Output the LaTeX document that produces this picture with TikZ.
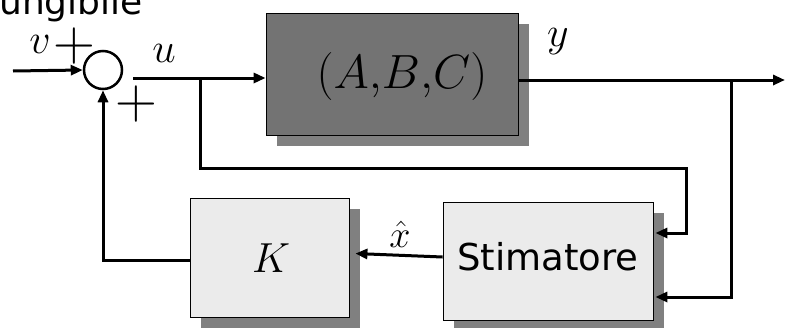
\RequirePackage{fix-cm}
\documentclass[tikz,border=0pt]{standalone}
\usepackage{fontspec}
\setsansfont{DejaVu Sans}
\usetikzlibrary{arrows.meta,positioning,calc,shadows}
\definecolor{PlantGray}{HTML}{737373}
\definecolor{BlockPale}{HTML}{EBEBEB}
\definecolor{ShadowGray}{HTML}{808080}

\tikzset{
  blk/.style={draw=black,line width=0.8pt,inner sep=0pt,
    drop shadow={shadow xshift=11pt,shadow yshift=-11pt,fill=ShadowGray,opacity=1}},
  sig/.style={line width=3pt},
  tip/.style={-{Triangle[length=12pt,width=10pt]}},
  mlab/.style={anchor=base,inner sep=0pt,font=\fontsize{42}{50}\selectfont},
  slab/.style={anchor=base,inner sep=0pt,font=\sffamily\fontsize{37}{44}\selectfont},
  plus/.style={inner sep=0pt,font=\fontsize{58}{64}\selectfont},
}

\begin{document}
\begin{tikzpicture}[x=1pt,y=-1pt]
  \useasboundingbox (0,0) rectangle (793,327);
  \clip (0,0) rectangle (793,327);

  % blocks
  \node[blk,fill=PlantGray,minimum width=252pt,minimum height=122pt] (plant) at (392,74) {};
  \node[blk,fill=BlockPale,minimum width=159pt,minimum height=119pt] (gain) at (269.5,257.5) {};
  \node[blk,fill=BlockPale,minimum width=210pt,minimum height=118pt] (est) at (548,261) {};
  \node[draw,circle,line width=2.5pt,minimum size=38pt,inner sep=0pt] (sum) at (103,70) {};

  % texts
  \node[anchor=base west,inner sep=0pt,font=\sffamily\fontsize{36}{44}\selectfont] (title) at (-1,14) {ungibile};
  \node[mlab,font=\fontsize{48}{56}\selectfont] (abc) at (402,88) {$(A{,}B{,}C)$};
  \node[mlab] (klab) at (271,272) {$K$};
  \node[slab] (estlab) at (548,270) {Stimatore};
  \node[mlab] (vlab) at (40,53) {$v$};
  \node[mlab] (ulab) at (164,62) {$u$};
  \node[mlab] (ylab) at (558,46) {$y$};
  \node[mlab,font=\fontsize{38}{46}\selectfont] (xlab) at (400,247) {$\hat{x}$};
  \node[plus] (plusv) at (74,46) {$+$};
  \node[plus] (plusk) at (136,104) {$+$};

  % signals
  \coordinate (vin) at (13,71);
  \coordinate (ustart) at (133,78);
  \coordinate (ubr) at (200,78);
  \coordinate (ucorner) at (686,168);
  \coordinate (yout) at (785,80);
  \coordinate (ybr) at (731,80);

  \draw[sig,tip] (vin) -- (sum.west);
  \draw[sig,tip] (ustart) -- (ustart -| plant.west);
  \draw[sig,tip] (ubr) |- (ucorner) |- ($(est.east)+(2,-28)$);
  \draw[sig,tip] ($(plant.east)+(0,6)$) -- (yout);
  \draw[sig,tip] (ybr) |- ($(est.east)+(2,36)$);
  \draw[sig,tip] ($(est.west)+(0,-4)$) -- ($(gain.east)+(6,-4)$);
  \draw[sig,tip] ($(gain.west)+(0,3)$) -| (sum.south);
\end{tikzpicture}
\end{document}
